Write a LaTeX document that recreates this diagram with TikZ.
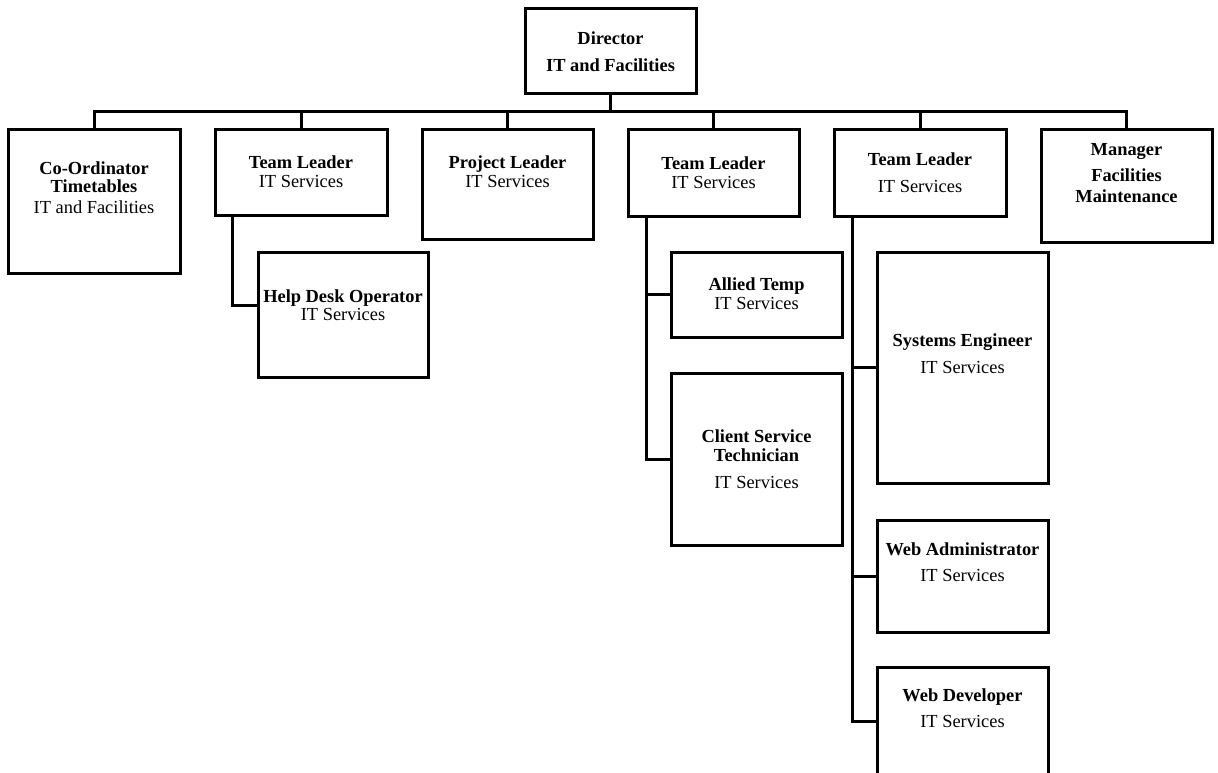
\documentclass[tikz,border=0pt]{standalone}
\usepackage{fontspec}
\setmainfont{Liberation Serif}
\begin{document}
\begin{tikzpicture}[x=1pt,y=-1pt,line join=miter,
  orgbox/.style={draw,rectangle,line width=3pt,inner sep=0pt,outer sep=0pt,anchor=north west},
  conn/.style={draw,line width=3pt,line join=miter},
  lbl/.style={anchor=base,inner sep=0pt,font=\fontsize{18.4pt}{20pt}\selectfont},
  blbl/.style={anchor=base,inner sep=0pt,font=\fontsize{18.4pt}{20pt}\selectfont\bfseries}]
\newcommand\mkbox[5]{\node[orgbox,minimum width={#4-#2},minimum height={#5-#3}] (#1) at (#2,#3) {};}
\useasboundingbox (0,0) rectangle (1218,773);
\clip (0,0) rectangle (1218,773);
\coordinate (bus) at (0,112);
% boxes
\mkbox{dir}{525}{9}{696}{94}
\mkbox{coord}{8}{130}{180}{273}
\mkbox{tla}{215}{130}{387}{215}
\mkbox{help}{258}{252}{428}{377}
\mkbox{proj}{422}{130}{593}{239}
\mkbox{tlb}{628}{130}{799}{216}
\mkbox{allied}{671}{252}{842}{337}
\mkbox{client}{671}{373}{842}{545}
\mkbox{tlc}{834}{130}{1006}{216}
\mkbox{se}{877}{252}{1048}{483}
\mkbox{wa}{877}{520}{1048}{632}
\mkbox{wd}{877}{667}{1048}{776}
\mkbox{mgr}{1041}{130}{1212}{242}
% bus
\path[conn] (coord.north) -- (coord.north |- bus) -- (mgr.north |- bus) -- (mgr.north);
\path[conn] (dir.south) -- (dir.south |- bus);
\path[conn] (tla.north) -- (tla.north |- bus);
\path[conn] (proj.north) -- (proj.north |- bus);
\path[conn] (tlb.north) -- (tlb.north |- bus);
\path[conn] (tlc.north) -- (tlc.north |- bus);
% sub connectors
\path[conn] ([xshift=17pt]tla.south west) |- ([yshift=9.5pt]help.west);
\path[conn] ([xshift=18pt]tlb.south west) |- (client.west);
\path[conn] ([xshift=18pt]tlb.south west |- allied.west) -- (allied.west);
\path[conn] ([xshift=18pt]tlc.south west) |- (wd.west);
\path[conn] ([xshift=18pt]tlc.south west |- se.west) -- (se.west);
\path[conn] ([xshift=18pt]tlc.south west |- wa.west) -- (wa.west);
% labels
\node[blbl] (t1) at (610.5,45) {Director};
\node[blbl] (t2) at (610.5,72) {IT and Facilities};
\node[blbl] (t3) at (94,175) {Co-Ordinator};
\node[blbl] (t4) at (94,193) {Timetables};
\node[lbl] (t5) at (94,213) {IT and Facilities};
\node[blbl] (t6) at (301,168) {Team Leader};
\node[lbl] (t7) at (301,187) {IT Services};
\node[blbl] (t8) at (343,302) {Help Desk Operator};
\node[lbl] (t9) at (343,320) {IT Services};
\node[blbl] (t10) at (507.5,168) {Project Leader};
\node[lbl] (t11) at (507.5,187) {IT Services};
\node[blbl] (t12) at (713.5,169) {Team Leader};
\node[lbl] (t13) at (713.5,188) {IT Services};
\node[blbl] (t14) at (756.5,290) {Allied Temp};
\node[lbl] (t15) at (756.5,309) {IT Services};
\node[blbl] (t16) at (756.5,442) {Client Service};
\node[blbl] (t17) at (756.5,461) {Technician};
\node[lbl] (t18) at (756.5,488) {IT Services};
\node[blbl] (t19) at (920,165) {Team Leader};
\node[lbl] (t20) at (920,192) {IT Services};
\node[blbl] (t21) at (1126.5,155) {Manager};
\node[blbl] (t22) at (1126.5,182) {Facilities};
\node[blbl] (t23) at (1126.5,202) {Maintenance};
\node[blbl] (t24) at (962.5,346) {Systems Engineer};
\node[lbl] (t25) at (962.5,373) {IT Services};
\node[blbl] (t26) at (962.5,555) {Web Administrator};
\node[lbl] (t27) at (962.5,581) {IT Services};
\node[blbl] (t28) at (962.5,701) {Web Developer};
\node[lbl] (t29) at (962.5,727) {IT Services};
\end{tikzpicture}
\end{document}
